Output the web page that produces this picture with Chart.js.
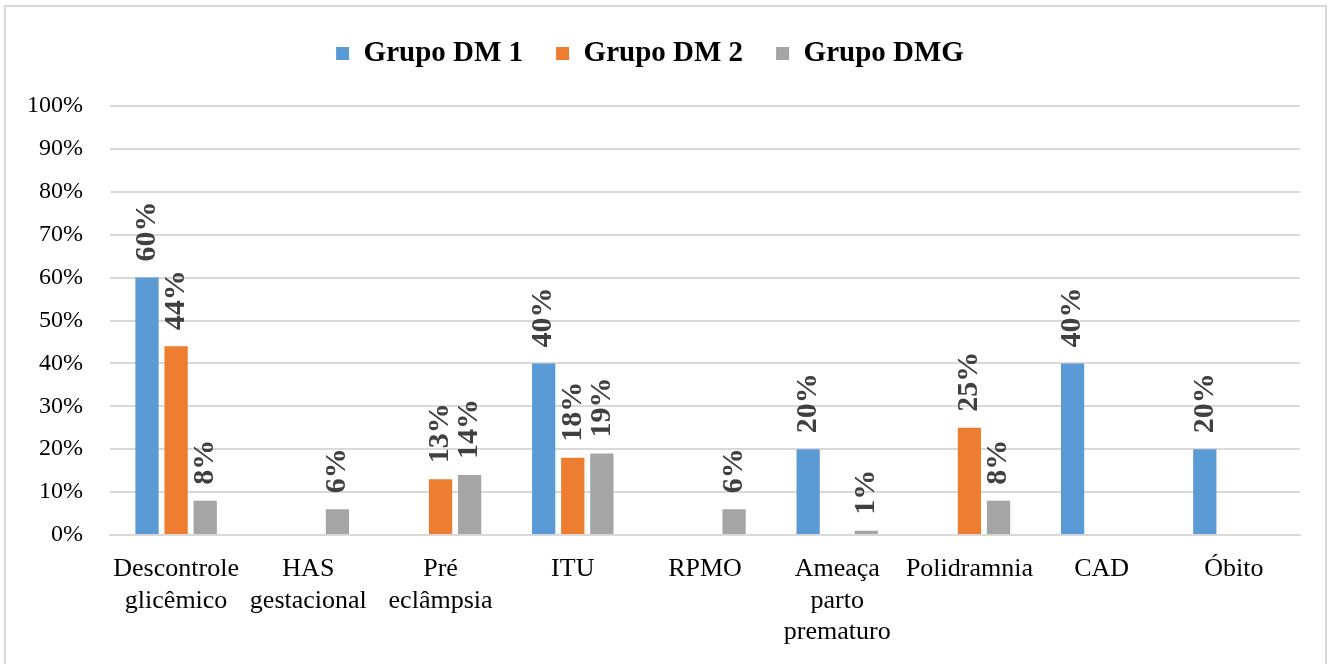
<!DOCTYPE html>
<html>
<head>
<meta charset="utf-8">
<script src="https://cdn.jsdelivr.net/npm/chart.js@4"></script>
<style>
  html, body { margin: 0; padding: 0; background: #fff; }
  #wrap { position: relative; width: 1333px; height: 664px; overflow: hidden; }
  #frame { position: absolute; left: 4px; top: 5px; width: 1323px; height: 700px; border: 2px solid #d9d9d9; box-sizing: border-box; }
  canvas { position: absolute; left: 0; top: 0; }
</style>
</head>
<body>
<div id="wrap">
  <div id="frame"></div>
  <canvas id="chart" width="1333" height="664"></canvas>
</div>
<script>
// categories (x axis), one entry per group of bars
const categories = [
    ['Descontrole', 'glicêmico'],
    ['HAS', 'gestacional'],
    ['Pré', 'eclâmpsia'],
    'ITU',
    'RPMO',
    ['Ameaça', 'parto', 'prematuro'],
    'Polidramnia',
    'CAD',
    'Óbito'
];

// percentages per group (null = no bar)
const grupoDM1 = [60, null, null, 40, null, 20, null, 40, 20];
const grupoDM2 = [44, null, 13, 18, null, null, 25, null, null];
const grupoDMG = [8, 6, 14, 19, 6, 1, 8, null, null];

const seriesNames = ['Grupo DM 1', 'Grupo DM 2', 'Grupo DMG'];
const yTicks = [0, 10, 20, 30, 40, 50, 60, 70, 80, 90, 100];

const serif = '"Liberation Serif", "Times New Roman", serif';

// draws the rotated value labels above each bar
const barLabels = {
    id: 'barLabels',
    afterDatasetsDraw(chart) {
        const ctx = chart.ctx;
        ctx.save();
        ctx.font = 'bold 30px ' + serif;
        ctx.fillStyle = '#404040';
        ctx.textAlign = 'left';
        ctx.textBaseline = 'middle';
        chart.data.datasets.forEach((ds, i) => {
            const meta = chart.getDatasetMeta(i);
            meta.data.forEach((bar, j) => {
                const v = ds.data[j];
                if (v === null || v === undefined) return;
                ctx.save();
                ctx.translate(bar.x, bar.y - 16);
                ctx.rotate(-Math.PI / 2);
                ctx.fillText(v + '%', 0, 0);
                ctx.restore();
            });
        });
        ctx.restore();
    }
};

// leave some extra room between the legend and the plot
const legendGap = {
    id: 'legendGap',
    beforeLayout(chart) {
        const legend = chart.legend;
        if (!legend || legend._gapPatched) return;
        const fit = legend.fit;
        legend.fit = function () {
            fit.call(this);
            this.height += 28;
        };
        legend._gapPatched = true;
    }
};

const ctx = document.getElementById('chart').getContext('2d');
new Chart(ctx, {
    type: 'bar',
    data: {
        labels: categories,
        datasets: [
            { label: seriesNames[0], data: grupoDM1, backgroundColor: '#5B9BD5' },
            { label: seriesNames[1], data: grupoDM2, backgroundColor: '#ED7D31' },
            { label: seriesNames[2], data: grupoDMG, backgroundColor: '#A5A5A5' }
        ]
    },
    options: {
        responsive: false,
        animation: false,
        layout: { padding: { top: 6, right: 33, left: 0, bottom: 0 } },
        datasets: {
            bar: { categoryPercentage: 0.66, barPercentage: 0.8 }
        },
        plugins: {
            legend: {
                position: 'top',
                labels: {
                    font: { family: serif, size: 29, weight: 'bold' },
                    color: '#000',
                    boxWidth: 13,
                    boxHeight: 13,
                    padding: 33
                }
            },
            tooltip: { enabled: false }
        },
        scales: {
            x: {
                grid: { display: false, drawTicks: false },
                border: { display: true, color: '#d9d9d9', width: 2 },
                ticks: {
                    autoSkip: false,
                    maxRotation: 0,
                    minRotation: 0,
                    padding: 19,
                    color: '#000',
                    font: { family: serif, size: 26, lineHeight: 1.2 }
                },
                afterFit(scale) { scale.height = 129; }
            },
            y: {
                min: 0,
                max: 100,
                afterBuildTicks(scale) { scale.ticks = yTicks.map(v => ({ value: v })); },
                grid: { color: '#d9d9d9', lineWidth: 2, drawTicks: false },
                border: { display: false },
                ticks: {
                    padding: 27,
                    color: '#000',
                    font: { family: serif, size: 24 },
                    callback: v => v + '%'
                },
                afterFit(scale) { scale.width = 110; }
            }
        }
    },
    plugins: [barLabels, legendGap]
});
</script>
</body>
</html>
